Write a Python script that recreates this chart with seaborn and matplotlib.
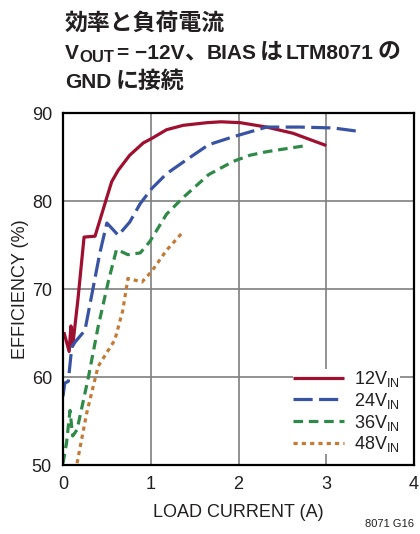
import matplotlib
matplotlib.use("Agg")
import matplotlib.pyplot as plt
from matplotlib import font_manager
import seaborn as sns
import pandas as pd

# Efficiency curves (load current in A, efficiency in %)
i_12 = [0.01, 0.07, 0.09, 0.11, 0.17, 0.24, 0.365, 0.42, 0.49, 0.555, 0.63, 0.76, 0.915,
        1.01, 1.18, 1.37, 1.64, 1.80, 2.02, 2.32, 2.62, 3.00]
e_12 = [65.1, 62.9, 65.8, 63.5, 68.8, 75.9, 76.0, 77.8, 80.1, 82.2, 83.5, 85.2, 86.6,
        87.1, 88.1, 88.6, 88.9, 89.0, 88.9, 88.4, 87.7, 86.3]

i_24 = [0.00, 0.02, 0.06, 0.10, 0.14, 0.25, 0.42, 0.50, 0.63, 0.76, 0.88, 1.01, 1.18,
        1.41, 1.66, 1.94, 2.32, 2.70, 3.08, 3.38]
e_24 = [57.8, 59.3, 59.5, 63.4, 64.0, 65.3, 74.1, 77.5, 76.1, 77.6, 79.7, 81.4, 83.1,
        84.7, 86.4, 87.3, 88.4, 88.4, 88.3, 87.9]

i_36 = [0.00, 0.04, 0.08, 0.11, 0.16, 0.29, 0.40, 0.52, 0.61, 0.74, 0.88, 0.99, 1.18,
        1.37, 1.66, 1.94, 2.13, 2.32, 2.74]
e_36 = [50.2, 52.5, 56.2, 53.3, 54.0, 60.0, 65.7, 71.0, 74.5, 73.9, 74.1, 75.4, 78.5,
        80.4, 83.0, 84.5, 85.2, 85.6, 86.25]

i_48 = [0.16, 0.27, 0.40, 0.59, 0.68, 0.74, 0.90, 1.01, 1.18, 1.35]
e_48 = [50.2, 55.9, 61.2, 64.2, 67.5, 71.2, 70.8, 72.0, 74.4, 76.3]

series_names = ["12V$_{\\mathregular{IN}}$", "24V$_{\\mathregular{IN}}$",
                "36V$_{\\mathregular{IN}}$", "48V$_{\\mathregular{IN}}$"]
x_ticks = [0, 1, 2, 3, 4]
y_ticks = [50, 60, 70, 80, 90]

colors = ["#9E0F30", "#3953A4", "#2F8A48", "#C47A35"]
dash_styles = ["", (6, 2), (3, 1.8), (1.3, 1.3)]
ink = "#231F20"

sns.set_style("white")

available = {f.name for f in font_manager.fontManager.ttflist}
narrow = "Liberation Sans Narrow" if "Liberation Sans Narrow" in available else "Liberation Sans"
plt.rcParams["font.family"] = [narrow, "DejaVu Sans"]
plt.rcParams["mathtext.fontset"] = "custom"
plt.rcParams["mathtext.rm"] = narrow
plt.rcParams["mathtext.default"] = "regular"

frames = []
for name, xs, ys in zip(series_names, [i_12, i_24, i_36, i_48], [e_12, e_24, e_36, e_48]):
    frames.append(pd.DataFrame({"current": xs, "efficiency": ys, "series": name}))
df = pd.concat(frames, ignore_index=True)

W, H = 420, 534
fig = plt.figure(figsize=(W / 100, H / 100), dpi=100)
ax = fig.add_axes([63 / W, 1 - 465 / H, (414 - 63) / W, (465 - 113) / H])

sns.lineplot(data=df, x="current", y="efficiency", hue="series", style="series",
             palette=dict(zip(series_names, colors)),
             dashes=dict(zip(series_names, dash_styles)),
             sort=False, estimator=None, linewidth=2.3, ax=ax)
for ln in ax.get_lines():
    ln.set_solid_capstyle("butt")
    ln.set_dash_capstyle("butt")
    ln.set_solid_joinstyle("round")

ax.set_xlim(0, 4)
ax.set_ylim(50, 90)
ax.set_xticks(x_ticks)
ax.set_yticks(y_ticks)
ax.tick_params(direction="in", length=5, width=1, colors="black",
               labelsize=13, pad=8, labelcolor=ink)
ax.grid(True, color="#7F7F7F", linewidth=1.2)
for sp in ax.spines.values():
    sp.set_visible(True)
    sp.set_color("black")
    sp.set_linewidth(1.6)

ax.set_xlabel("LOAD CURRENT (A)", fontsize=13, color=ink, labelpad=8)
ax.set_ylabel("EFFICIENCY (%)", fontsize=13, color=ink, labelpad=2)

leg = ax.legend(loc="upper left", bbox_to_anchor=((293 - 63) / 351, (465 - 369) / 352),
                frameon=True, fontsize=13, handlelength=2.85, handletextpad=0.55,
                labelspacing=0.1, borderpad=0.0, borderaxespad=0.0, title=None)
leg.get_frame().set_facecolor("white")
leg.get_frame().set_edgecolor("none")
leg.get_frame().set_alpha(1.0)
for t in leg.get_texts():
    t.set_color(ink)

# Heading: Japanese runs in Noto Sans CJK, Latin runs in a bold sans face
cjk = ["Noto Sans CJK JP", "DejaVu Sans"]
lat = [narrow, "Noto Sans CJK JP"]
fs_cjk = 16.5
fs_lat = 15
renderer = fig.canvas.get_renderer()


def heading_line(y_px, pieces):
    cur = 65
    for txt, fam, size, dy, gap in pieces:
        t = fig.text(cur / W, 1 - (y_px + dy) / H, txt, fontsize=size, fontweight="bold",
                     family=fam, va="baseline", ha="left", color=ink)
        bb = t.get_window_extent(renderer=renderer)
        cur = bb.x1 + gap


heading_line(30, [("効率と負荷電流", cjk, fs_cjk, 0, 0)])
heading_line(59, [("V", lat, fs_lat, 0, 0),
                  ("OUT", lat, fs_lat * 0.8, 2.5, 3),
                  ("= −12V", lat, fs_lat, 0, 0),
                  ("、", cjk, fs_cjk, 0, 0),
                  ("BIAS", lat, fs_lat, 0, 3),
                  ("は", cjk, fs_cjk, 0, 3),
                  ("LTM8071", lat, fs_lat, 0, 4),
                  ("の", cjk, fs_cjk, 0, 0)])
heading_line(88, [("GND", lat, fs_lat, 0, 4),
                  ("に接続", cjk, fs_cjk, 0, 0)])

fig.text(414 / W, 1 - 527 / H, "8071 G16", fontsize=8, ha="right",
         va="baseline", color=ink)

fig.savefig("out.png", dpi=100)
